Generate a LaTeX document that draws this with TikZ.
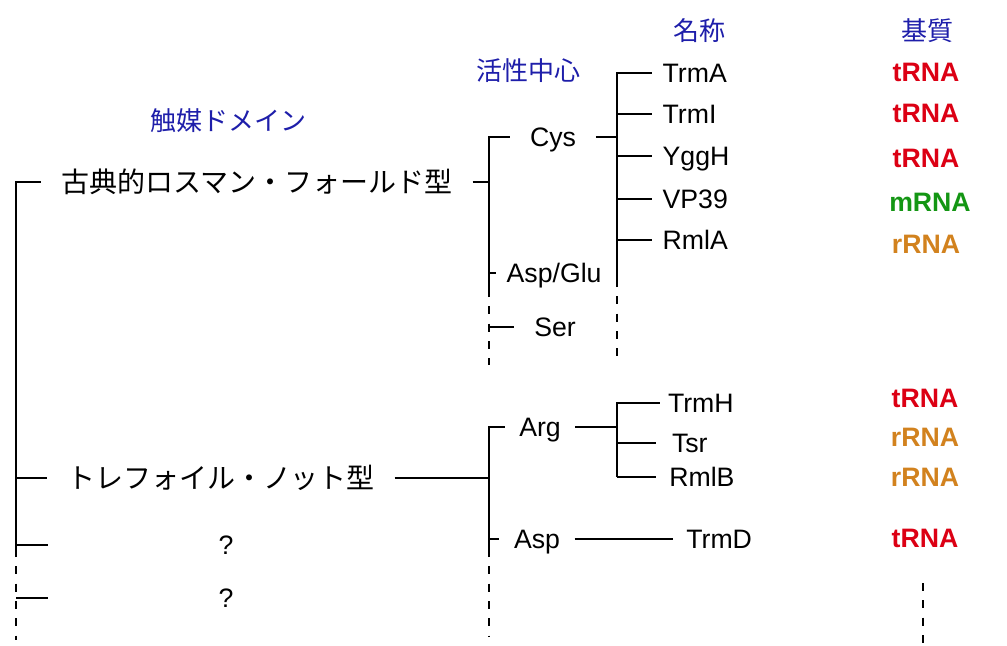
\documentclass[tikz,border=0pt]{standalone}
\usepackage{fontspec}
\setmainfont{Liberation Sans}
\newfontfamily\jfont{Noto Sans CJK JP}
\definecolor{hblue}{RGB}{30,30,170}
\definecolor{sred}{RGB}{220,0,20}
\definecolor{sgreen}{RGB}{20,150,20}
\definecolor{sorange}{RGB}{210,130,30}
\tikzset{
  jp/.style={font=\jfont\fontsize{21pt}{24pt}\selectfont, inner sep=0pt, text height=16pt, text depth=0pt, outer xsep=15pt},
  head/.style={font=\jfont\fontsize{19.5pt}{22pt}\selectfont, text=hblue, inner sep=0pt, text height=15pt, text depth=0pt},
  lab/.style={font=\fontsize{20pt}{24pt}\selectfont, inner sep=0pt, text height=14.3pt, text depth=0pt},
  sub/.style={font=\bfseries\fontsize{20pt}{23pt}\selectfont, inner sep=0pt, text height=14.3pt, text depth=0pt},
  dotline/.style={dash pattern=on 6pt off 7pt, dash phase=6pt},
}
\begin{document}
\begin{tikzpicture}[x=0.75pt,y=-0.75pt,line width=1pt]
\useasboundingbox (0,0) rectangle (1007,646);
\fill[white] (0,0) rectangle (1007,646);
% headings
\node[head] (hdom) at (228,120) {触媒ドメイン};
\node[head] (hact) at (528,70) {活性中心};
\node[head] (hname) at (699,30) {名称};
\node[head] (hsub) at (927,30) {基質};
% trunk
\coordinate (T0) at (16,182);
\coordinate (T1) at (16,557);
\coordinate (T2) at (16,640);
\node[jp] (classic) at (257,182) {古典的ロスマン・フォールド型};
\node[jp] (tref) at (221,478) {トレフォイル・ノット型};
\node[lab] (q1) at (226,545) {?};
\node[lab] (q2) at (226,598) {?};
\coordinate (q1s) at (48,545);
\coordinate (q2s) at (48,598);
\draw (T1) -- (T0) -- (classic.west);
\draw[dotline] (T1) -- (T2);
\draw (T0 |- tref) -- (tref.west);
\draw (T0 |- q1) -- (q1s);
\draw (T0 |- q2) -- (q2s);
% classic Rossmann subtree
\coordinate (J1top) at (489,137);
\coordinate (J1bot) at (489,297);
\coordinate (J1end) at (489,365);
\draw (classic.east) -- (J1top |- classic);
\node[lab, outer xsep=15pt] (cys) at (553,137) {Cys};
\node[lab, anchor=west, outer xsep=8pt] (aspglu) at (496,273) {Asp/Glu};
\node[lab, outer xsep=15pt] (ser) at (555,327) {Ser};
\draw (J1bot) -- (J1top) -- (cys.west);
\draw[dotline] (J1bot) -- (J1end);
\draw (J1top |- aspglu) -- (aspglu.west);
\draw (J1top |- ser) -- (ser.west);
\coordinate (J2top) at (617,73);
\coordinate (J2bot) at (617,287);
\coordinate (J2end) at (617,365);
\draw (cys.east) -- (J2top |- cys);
\node[lab, anchor=west, outer xsep=8pt] (trmA) at (652,73) {TrmA};
\node[lab, anchor=west, outer xsep=8pt] (trmI) at (652,114) {TrmI};
\node[lab, anchor=west, outer xsep=8pt] (yggH) at (652,156) {YggH};
\node[lab, anchor=west, outer xsep=8pt] (vp39) at (652,199) {VP39};
\node[lab, anchor=west, outer xsep=8pt] (rmlA) at (652,240) {RmlA};
\draw (J2bot) -- (J2top) -- (trmA.west);
\draw (J2top |- trmI) -- (trmI.west);
\draw (J2top |- yggH) -- (yggH.west);
\draw (J2top |- vp39) -- (vp39.west);
\draw (J2top |- rmlA) -- (rmlA.west);
\draw[dotline] (J2bot) -- (J2end);
% trefoil knot subtree
\coordinate (J3top) at (489,427);
\coordinate (J3bot) at (489,557);
\coordinate (J3end) at (489,637);
\draw (tref.east) -- (J3top |- tref);
\node[lab, outer xsep=11pt] (arg) at (540,427) {Arg};
\node[lab, outer xsep=11pt] (asp) at (537,539) {Asp};
\draw (J3bot) -- (J3top) -- (arg.west);
\draw (J3top |- asp) -- (asp.west);
\draw[dotline] (J3bot) -- (J3end);
\coordinate (J4top) at (617,403);
\coordinate (J4bot) at (617,477);
\draw (arg.east) -- (J4top |- arg);
\node[lab, anchor=west, outer xsep=6pt] (trmH) at (660,403) {TrmH};
\node[lab, anchor=west, outer xsep=12pt] (tsr) at (656,443) {Tsr};
\node[lab, anchor=west, outer xsep=10pt] (rmlB) at (656,477) {RmlB};
\node[lab, anchor=west, outer xsep=10pt] (trmD) at (673,539) {TrmD};
\draw (J4bot |- rmlB) -- (J4top) -- (trmH.west);
\draw (J4top |- tsr) -- (tsr.west);
\draw (J4bot |- rmlB) -- (rmlB.west);
\draw (asp.east) -- (trmD.west);
% substrates
\node[sub, text=sred] (s1) at (926,72) {tRNA};
\node[sub, text=sred] (s2) at (926,113) {tRNA};
\node[sub, text=sred] (s3) at (926,158) {tRNA};
\node[sub, text=sgreen] (s4) at (930,202) {mRNA};
\node[sub, text=sorange] (s5) at (926,244) {rRNA};
\node[sub, text=sred] (s6) at (925,398) {tRNA};
\node[sub, text=sorange] (s7) at (925,437) {rRNA};
\node[sub, text=sorange] (s8) at (925,477) {rRNA};
\node[sub, text=sred] (s9) at (925,538) {tRNA};
\coordinate (sd0) at (923,583);
\coordinate (sd1) at (923,646);
\draw[dotline, dash phase=0pt] (sd0) -- (sd1);
\end{tikzpicture}
\end{document}
